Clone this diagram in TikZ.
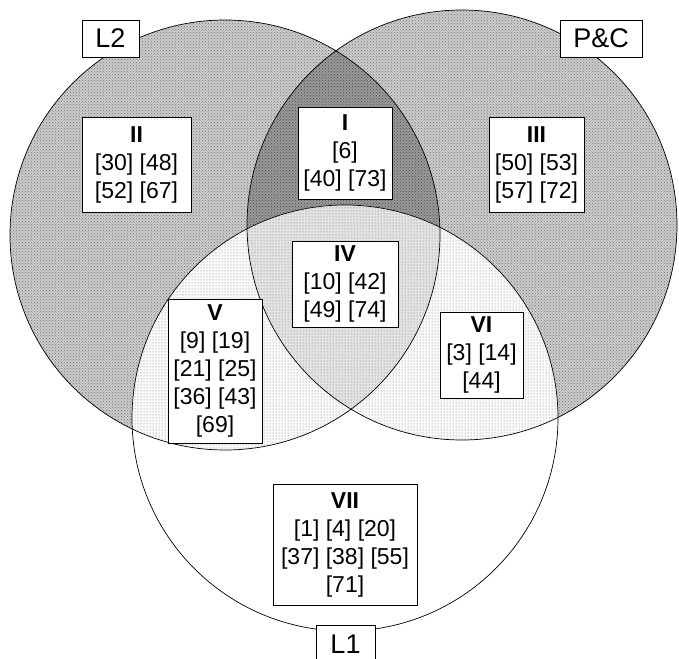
\documentclass[tikz,border=0pt]{standalone}
\usepackage{fontspec}
\setmainfont{Liberation Sans}
\usetikzlibrary{patterns}

\tikzset{
  regonly/.style={fill=black!20, postaction={pattern=crosshatch dots, pattern color=black!55}},
  regpair/.style={fill=black!40, postaction={pattern=crosshatch dots, pattern color=black!70}},
  regall/.style={fill=black!11, postaction={pattern=dots, pattern color=black!55}},
  regdot/.style={fill=black!2, postaction={pattern=dots, pattern color=black!50}},
  ring/.style={draw=black, line width=0.7pt},
  regbox/.style={draw, fill=white, line width=0.8pt, align=center, inner sep=1pt,
    font=\fontsize{23}{28}\selectfont},
  setlabel/.style={draw, fill=white, line width=0.8pt, inner sep=0pt,
    minimum height=37pt, font=\fontsize{27}{30}\selectfont}
}

\begin{document}
\begin{tikzpicture}[x=1pt,y=-1pt]
    \useasboundingbox (0,0) rectangle (679,658);
    % Centres of the three sets:
    \coordinate (cL2) at (225,235);
    \coordinate (cPC) at (462,225);
    \coordinate (cL1) at (345,418);

    % Shaded regions, built up by clipping:
    \path[regonly] (cL2) circle[radius=215pt];
    \path[regonly] (cPC) circle[radius=215pt];
    \begin{scope}
    \clip (cL2) circle[radius=215pt];
    \path[regpair] (cPC) circle[radius=215pt];
    \end{scope}

    \fill[white] (cL1) circle[radius=213pt];
    \begin{scope}
    \clip (cL1) circle[radius=213pt];
    \path[regdot] (cL2) circle[radius=215pt];
    \path[regdot] (cPC) circle[radius=215pt];
    \clip (cL2) circle[radius=215pt];
    \path[regall] (cPC) circle[radius=215pt];
    \end{scope}

    % Outlines:
    \draw[ring] (cL2) circle[radius=215pt];
    \draw[ring] (cPC) circle[radius=215pt];
    \draw[ring] (cL1) circle[radius=213pt];

    % Set names:
    \node[setlabel, minimum width=57pt] (L2) at (110.5,38.5) {L2};
    \node[setlabel, minimum width=82pt] (PC) at (601,38.5) {P\&C};
    \node[setlabel, minimum width=59pt, anchor=north] (L1) at (345.5,625) {L1};

    % Region boxes:
    \node[regbox, minimum width=109pt, minimum height=95pt] (II) at (136.5,164.5)
      {\textbf{II}\\{[30] [48]}\\{[52] [67]}};
    \node[regbox, minimum width=94pt, minimum height=92pt] (I) at (345,153)
      {\textbf{I}\\{[6]}\\{[40] [73]}};
    \node[regbox, minimum width=95pt, minimum height=95pt] (III) at (536.5,164.5)
      {\textbf{III}\\{[50] [53]}\\{[57] [72]}};
    \node[regbox, minimum width=106pt, minimum height=86pt] (IV) at (345,284)
      {\textbf{IV}\\{[10] [42]}\\{[49] [74]}};
    \node[regbox, minimum width=94pt, minimum height=144pt] (V) at (215,371)
      {\textbf{V}\\{[9] [19]}\\{[21] [25]}\\{[36] [43]}\\{[69]}};
    \node[regbox, minimum width=83pt, minimum height=86pt] (VI) at (481.5,355)
      {\textbf{VI}\\{[3] [14]}\\{[44]}};
    \node[regbox, minimum width=144pt, minimum height=121pt] (VII) at (345,544.5)
      {\textbf{VII}\\{[1] [4] [20]}\\{[37] [38] [55]}\\{[71]}};
\end{tikzpicture}
\end{document}
